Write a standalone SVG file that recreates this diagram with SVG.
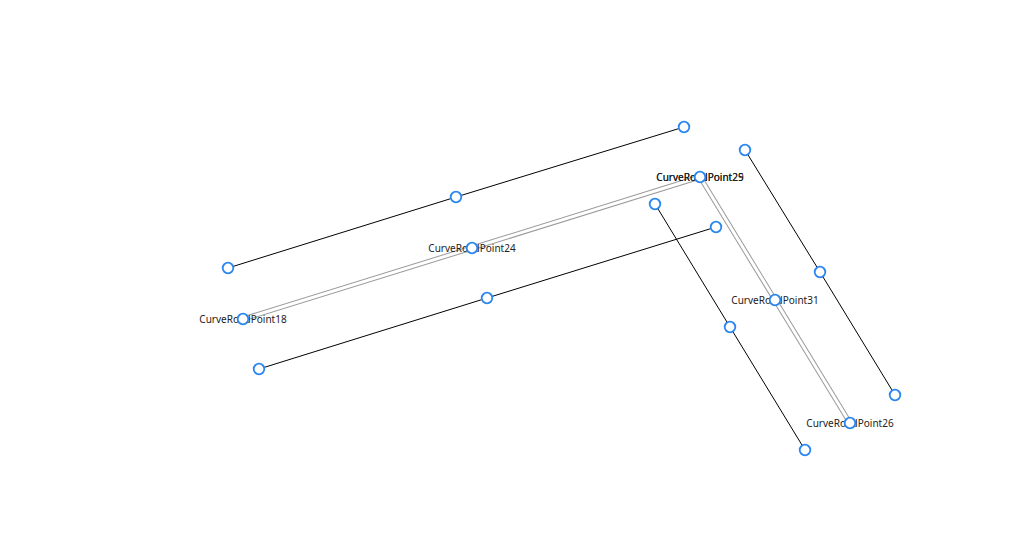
<svg xmlns="http://www.w3.org/2000/svg" width="1024" height="541" viewBox="0 0 1024 541">
<style>
.edge{fill:none;stroke:#000;stroke-width:1}
.dbl-o{fill:none;stroke:#9a9a9a;stroke-width:5}
.dbl-i{fill:none;stroke:#fff;stroke-width:3}
.pt{fill:#fff;stroke:#2b87f0;stroke-width:1.8}
.lbl{font-family:"Noto Sans","Liberation Sans",sans-serif;font-size:10px;fill:#222;text-anchor:middle}
</style>
<rect width="1024" height="541" fill="#fff"/>
<g id="connectors">
<polyline class="edge" points="228,268 456,197 684,127"/>
<polyline class="dbl-o" points="243,319 472,248 700,177"/>
<polyline class="dbl-i" points="243,319 472,248 700,177"/>
<polyline class="edge" points="259,369 487,298 716,227"/>
<polyline class="edge" points="745,150 820,272 895,395"/>
<polyline class="dbl-o" points="700,177 775,300 850,423"/>
<polyline class="dbl-i" points="700,177 775,300 850,423"/>
<polyline class="edge" points="655,204 730,327 805,450"/>
</g>
<g id="labels">
<text class="lbl" x="243" y="323">CurveRoadPoint18</text>
<text class="lbl" x="472" y="252">CurveRoadPoint24</text>
<text class="lbl" x="700" y="181">CurveRoadPoint25</text>
<text class="lbl" x="700" y="181">CurveRoadPoint29</text>
<text class="lbl" x="775" y="304">CurveRoadPoint31</text>
<text class="lbl" x="850" y="427">CurveRoadPoint26</text>
</g>
<g id="points">
<circle id="p1" class="pt" cx="228" cy="268" r="5.3"/>
<circle id="p2" class="pt" cx="456" cy="197" r="5.3"/>
<circle id="p3" class="pt" cx="684" cy="127" r="5.3"/>
<circle id="p18" class="pt" cx="243" cy="319" r="5.3"/>
<circle id="p24" class="pt" cx="472" cy="248" r="5.3"/>
<circle id="p25" class="pt" cx="700" cy="177" r="5.3"/>
<circle id="p4" class="pt" cx="259" cy="369" r="5.3"/>
<circle id="p5" class="pt" cx="487" cy="298" r="5.3"/>
<circle id="p6" class="pt" cx="716" cy="227" r="5.3"/>
<circle id="p7" class="pt" cx="745" cy="150" r="5.3"/>
<circle id="p8" class="pt" cx="820" cy="272" r="5.3"/>
<circle id="p9" class="pt" cx="895" cy="395" r="5.3"/>
<circle id="p31" class="pt" cx="775" cy="300" r="5.3"/>
<circle id="p26" class="pt" cx="850" cy="423" r="5.3"/>
<circle id="p10" class="pt" cx="655" cy="204" r="5.3"/>
<circle id="p11" class="pt" cx="730" cy="327" r="5.3"/>
<circle id="p12" class="pt" cx="805" cy="450" r="5.3"/>
</g>
</svg>
